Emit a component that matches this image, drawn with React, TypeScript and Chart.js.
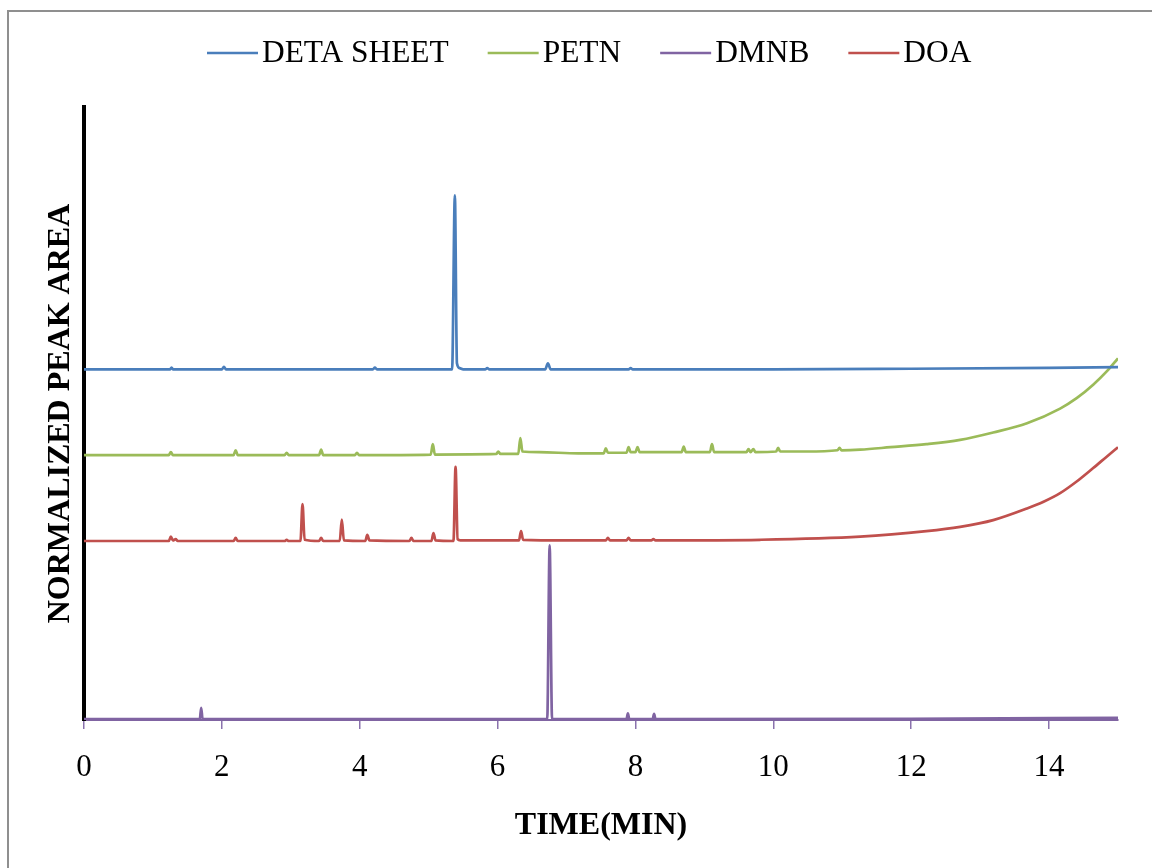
import React, { useEffect, useRef } from "react";
import { Chart, registerables } from "chart.js";

Chart.register(...registerables);

// Retention time (min) and normalized response for each trace.
const DETA_T = [0, 1.25, 1.27, 1.29, 2.0, 2.03, 2.06, 4.19, 4.22, 4.25, 5.34, 5.38, 5.41, 5.45, 5.5, 5.82, 5.85, 5.88, 6.69, 6.73, 6.77, 7.9, 7.93, 7.96, 10, 12, 14, 15];
const DETA_V = [57.2, 57.2, 57.5, 57.2, 57.2, 57.6, 57.2, 57.2, 57.5, 57.2, 57.2, 85.6, 58.2, 57.4, 57.2, 57.2, 57.4, 57.2, 57.2, 58.2, 57.2, 57.2, 57.4, 57.2, 57.2, 57.3, 57.45, 57.55];

const PETN_T = [0, 1.23, 1.26, 1.29, 2.17, 2.2, 2.23, 2.91, 2.94, 2.97, 3.41, 3.44, 3.47, 3.93, 3.96, 3.99, 5.03, 5.06, 5.09, 5.98, 6.01, 6.04, 6.3, 6.33, 6.36, 6.6, 7.17, 7.54, 7.57, 7.6, 7.87, 7.9, 7.93, 8.0, 8.03, 8.06, 8.67, 8.7, 8.73, 9.08, 9.11, 9.14, 9.61, 9.64, 9.67, 9.71, 9.74, 10.04, 10.07, 10.1, 10.48, 10.93, 10.96, 10.99, 11.26, 11.7, 12.22, 12.71, 13.19, 13.68, 14.16, 14.4, 14.64, 14.84, 15];
const PETN_V = [43.2, 43.2, 43.7, 43.2, 43.2, 44.0, 43.2, 43.2, 43.6, 43.2, 43.2, 44.1, 43.2, 43.2, 43.6, 43.2, 43.3, 45.0, 43.3, 43.4, 43.8, 43.4, 43.4, 46.0, 43.8, 43.7, 43.5, 43.5, 44.3, 43.6, 43.6, 44.5, 43.7, 43.7, 44.5, 43.7, 43.7, 44.6, 43.7, 43.7, 45.0, 43.7, 43.7, 44.2, 43.7, 44.2, 43.7, 43.8, 44.4, 43.8, 43.8, 44.0, 44.4, 44.0, 44.1, 44.5, 45.0, 45.7, 46.9, 48.4, 50.8, 52.5, 54.7, 56.9, 59.0];

const DMNB_T = [0, 1.68, 1.7, 1.72, 6.72, 6.755, 6.79, 7.87, 7.89, 7.91, 8.25, 8.27, 8.29, 12, 15];
const DMNB_V = [0.15, 0.15, 2.0, 0.15, 0.15, 28.5, 0.15, 0.15, 1.1, 0.15, 0.15, 1.0, 0.15, 0.2, 0.35];

const DOA_T = [0, 1.23, 1.26, 1.29, 1.33, 1.36, 2.17, 2.2, 2.23, 2.91, 2.94, 2.97, 3.14, 3.17, 3.2, 3.41, 3.44, 3.47, 3.71, 3.74, 3.77, 4.08, 4.11, 4.14, 4.72, 4.75, 4.78, 5.04, 5.07, 5.1, 5.36, 5.39, 5.42, 5.46, 6.31, 6.34, 6.37, 7.0, 7.57, 7.6, 7.63, 7.87, 7.9, 7.93, 8.23, 8.26, 8.29, 9.81, 11.26, 12.22, 12.71, 13.19, 13.68, 13.92, 14.16, 14.4, 14.64, 14.84, 15];
const DOA_V = [29.2, 29.2, 29.9, 29.3, 29.5, 29.2, 29.2, 29.7, 29.2, 29.2, 29.4, 29.2, 29.2, 35.2, 29.4, 29.2, 29.7, 29.2, 29.2, 32.7, 29.3, 29.2, 30.2, 29.3, 29.2, 29.7, 29.2, 29.2, 30.5, 29.3, 29.2, 41.3, 29.5, 29.3, 29.3, 30.8, 29.4, 29.3, 29.3, 29.7, 29.3, 29.3, 29.7, 29.3, 29.3, 29.5, 29.3, 29.4, 29.9, 30.8, 31.5, 32.6, 34.5, 35.6, 37.0, 38.9, 41.1, 43.0, 44.5];

const SERIES_NAMES = ["DETA SHEET", "PETN", "DMNB", "DOA"];
const SERIES_COLORS = ["#4a7ebb", "#9bbb59", "#8064a2", "#c0504d"];
const X_TICKS = [0, 2, 4, 6, 8, 10, 12, 14];

const FONT = "'Liberation Serif', 'Times New Roman', serif";

const toPoints = (t: number[], v: number[]) => t.map((x, i) => ({ x, y: v[i] }));

// Legend row across the top: short line sample followed by the series name.
const topLegend = {
  id: "topLegend",
  afterDraw(chart: any) {
    const ctx = chart.ctx;
    const y = 53;
    let x = 207;
    ctx.save();
    ctx.font = `31.4px ${FONT}`;
    ctx.textBaseline = "middle";
    ctx.textAlign = "left";
    chart.data.datasets.forEach((ds: any) => {
      ctx.strokeStyle = ds.borderColor;
      ctx.lineWidth = 2.5;
      ctx.beginPath();
      ctx.moveTo(x, y);
      ctx.lineTo(x + 51, y);
      ctx.stroke();
      ctx.fillStyle = "#000";
      ctx.fillText(ds.label, x + 55, y + 1);
      x += 55 + ctx.measureText(ds.label).width + 39;
    });
    ctx.restore();
  },
};

export default function App() {
  const canvasRef = useRef<HTMLCanvasElement | null>(null);

  useEffect(() => {
    const canvas = canvasRef.current;
    if (!canvas) return;
    const series = [
      toPoints(DETA_T, DETA_V),
      toPoints(PETN_T, PETN_V),
      toPoints(DMNB_T, DMNB_V),
      toPoints(DOA_T, DOA_V),
    ];
    const chart = new Chart(canvas, {
      type: "line",
      data: {
        datasets: series.map((data, i) => ({
          label: SERIES_NAMES[i],
          data,
          borderColor: SERIES_COLORS[i],
          backgroundColor: SERIES_COLORS[i],
          borderWidth: 2.7,
          pointRadius: 0,
          cubicInterpolationMode: "monotone" as const,
          fill: false,
        })),
      },
      options: {
        responsive: false,
        animation: false,
        layout: { padding: { top: 107, right: 34, left: 0, bottom: 0 } },
        plugins: { legend: { display: false }, tooltip: { enabled: false } },
        scales: {
          x: {
            type: "linear",
            min: 0,
            max: 15,
            afterBuildTicks: (s: any) => {
              s.ticks = X_TICKS.map((value) => ({ value }));
            },
            afterFit: (s: any) => {
              s.height = 148;
            },
            grid: {
              display: true,
              drawOnChartArea: false,
              drawTicks: true,
              tickLength: 9,
              color: "#8a72ad",
              lineWidth: 1.5,
            },
            border: { display: true, color: "#8064a2", width: 2 },
            ticks: {
              color: "#000",
              font: { family: FONT, size: 31 },
              padding: 20,
              maxRotation: 0,
              autoSkip: false,
            },
            title: {
              display: true,
              text: "TIME(MIN)",
              color: "#000",
              font: { family: FONT, size: 32, weight: "bold" },
              padding: { top: 0, bottom: 23 },
            },
          },
          y: {
            min: 0,
            max: 100,
            afterFit: (s: any) => {
              s.width = 84;
            },
            grid: { display: false },
            border: { display: true, color: "#000", width: 4 },
            ticks: { display: false },
            title: {
              display: true,
              text: "NORMALIZED PEAK AREA",
              color: "#000",
              font: { family: FONT, size: 32, weight: "bold" },
              padding: { top: 42, bottom: 0 },
            },
          },
        },
      },
      plugins: [topLegend],
    });
    return () => chart.destroy();
  }, []);

  return (
    <div style={{ position: "fixed", inset: 0, overflow: "hidden", background: "#fff" }}>
      <div
        style={{
          position: "absolute",
          left: 7,
          top: 10,
          width: 1300,
          height: 1000,
          border: "2px solid #8f8f8f",
        }}
      />
      <canvas
        ref={canvasRef}
        width={1152}
        height={868}
        style={{ position: "absolute", left: 0, top: 0, width: 1152, height: 868 }}
      />
    </div>
  );
}
